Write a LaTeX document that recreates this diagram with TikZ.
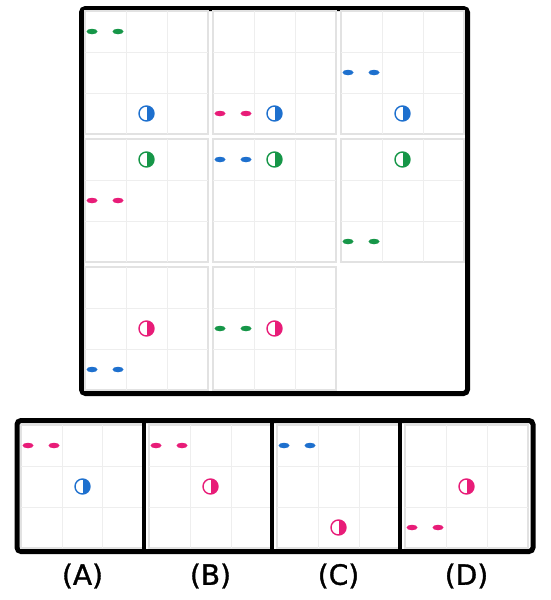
\documentclass[tikz,border=0pt]{standalone}
\usepackage{fontspec}
\setmainfont{DejaVu Sans}
\newfontfamily\labelfont[FakeBold=1.2]{DejaVu Sans}
\usetikzlibrary{shapes.geometric, calc}
\definecolor{markgreen}{RGB}{22, 150, 72}
\definecolor{markblue} {RGB}{30, 112, 206}
\definecolor{markpink} {RGB}{232, 28, 120}
\definecolor{cellline} {RGB}{226, 226, 226}
\definecolor{gridline} {RGB}{238, 238, 238}
\tikzset{
	cellbox/.style={
		rectangle, draw=cellline, line width=1.4pt,
		minimum width=123pt, minimum height=123pt,
		inner sep=0pt, outer sep=0pt, anchor=north west
	},
	thirdline/.style={
		draw=gridline, line width=1pt
	},
	dashmark/.style={
		ellipse, fill=#1, minimum width=11pt, minimum height=5.5pt,
		inner sep=0pt
	},
	halfmark/.style={
		circle, draw=#1, line width=1.4pt, minimum size=15pt, inner sep=0pt,
		path picture={\fill[#1] (path picture bounding box.north)
			rectangle (path picture bounding box.south east);}
	},
	boardframe/.style={
		rectangle, rounded corners=4pt, draw=black, line width=5pt,
		inner sep=0pt, anchor=north west
	},
	divider/.style={
		draw=black, line width=4.5pt
	},
	optlabel/.style={
		font=\labelfont\fontsize{28}{32}\selectfont
	}
}
% inner thirds of a cell
\newcommand{\thirds}[1]{%
	\foreach \q in {1,2}{%
		\draw[thirdline] ($(#1.north west)!\q/3!(#1.north east)$) -- ($(#1.south west)!\q/3!(#1.south east)$);
		\draw[thirdline] ($(#1.north west)!\q/3!(#1.south west)$) -- ($(#1.north east)!\q/3!(#1.south east)$);
	}%
}
% two dashes in the first column: cell, row, colour
\newcommand{\dashpair}[3]{%
	\node[dashmark=#3] (#1-l) at ([shift={(7,20.5+41*#2)}]#1.north west) {};
	\node[dashmark=#3] (#1-r) at ([shift={(33,20.5+41*#2)}]#1.north west) {};
}
% half disc in the middle column: cell, row, colour
\newcommand{\halfdisc}[3]{%
	\node[halfmark=#3] (#1-h) at ([shift={(61.5,20.5+41*#2)}]#1.north west) {};
}

\begin{document}
\begin{tikzpicture}[x=1pt, y=-1pt]
	\useasboundingbox (0,0) rectangle (550,600);

	%% ═══════════════════════════════
	%%  BOARD — 3x3, last cell empty
	%% ═══════════════════════════════
	\node[boardframe, minimum width=386pt, minimum height=385pt] (board) at (79,6) {};

	\node[cellbox] (c11) at (85,11) {};
	\node[cellbox] (c12) at (213,11) {};
	\node[cellbox] (c13) at (341,11) {};
	\node[cellbox] (c21) at (85,139) {};
	\node[cellbox] (c22) at (213,139) {};
	\node[cellbox] (c23) at (341,139) {};
	\node[cellbox] (c31) at (85,267) {};
	\node[cellbox] (c32) at (213,267) {};
	\thirds{c11} \thirds{c12} \thirds{c13}
	\thirds{c21} \thirds{c22} \thirds{c23}
	\thirds{c31} \thirds{c32}

	% row 1
	\dashpair{c11}{0}{markgreen} \halfdisc{c11}{2}{markblue}
	\dashpair{c12}{2}{markpink}  \halfdisc{c12}{2}{markblue}
	\dashpair{c13}{1}{markblue}  \halfdisc{c13}{2}{markblue}
	% row 2
	\dashpair{c21}{1}{markpink}  \halfdisc{c21}{0}{markgreen}
	\dashpair{c22}{0}{markblue}  \halfdisc{c22}{0}{markgreen}
	\dashpair{c23}{2}{markgreen} \halfdisc{c23}{0}{markgreen}
	% row 3
	\dashpair{c31}{2}{markblue}  \halfdisc{c31}{1}{markpink}
	\dashpair{c32}{1}{markgreen} \halfdisc{c32}{1}{markpink}

	%% ═══════════════════════════════
	%%  CHOICES — A to D
	%% ═══════════════════════════════
	\node[boardframe, minimum width=516pt, minimum height=131pt] (choices) at (14.5,418) {};

	\node[cellbox] (oa) at (21,425) {};
	\node[cellbox] (ob) at (149,425) {};
	\node[cellbox] (oc) at (277,425) {};
	\node[cellbox] (od) at (405,425) {};
	\thirds{oa} \thirds{ob} \thirds{oc} \thirds{od}

	\dashpair{oa}{0}{markpink} \halfdisc{oa}{1}{markblue}
	\dashpair{ob}{0}{markpink} \halfdisc{ob}{1}{markpink}
	\dashpair{oc}{0}{markblue} \halfdisc{oc}{2}{markpink}
	\dashpair{od}{2}{markpink} \halfdisc{od}{1}{markpink}

	% dividers between the choices
	\draw[divider] (oa.east |- choices.north) -- (oa.east |- choices.south);
	\draw[divider] (ob.east |- choices.north) -- (ob.east |- choices.south);
	\draw[divider] (oc.east |- choices.north) -- (oc.east |- choices.south);

	\node[optlabel] (la) at ([yshift=-28pt]oa.south) {(A)};
	\node[optlabel] (lb) at ([yshift=-28pt]ob.south) {(B)};
	\node[optlabel] (lc) at ([yshift=-28pt]oc.south) {(C)};
	\node[optlabel] (ld) at ([yshift=-28pt]od.south) {(D)};
\end{tikzpicture}
\end{document}
